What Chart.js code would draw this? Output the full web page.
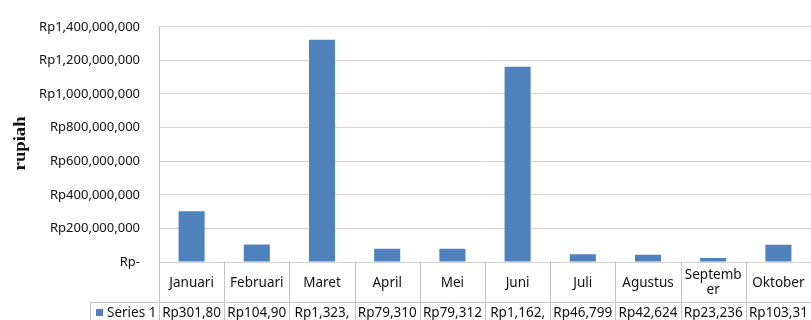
<!DOCTYPE html>
<html>
<head>
<meta charset="utf-8">
<script src="https://cdn.jsdelivr.net/npm/chart.js@4/dist/chart.umd.min.js"></script>
<style>
  html, body { margin: 0; padding: 0; background: #ffffff; }
  canvas { display: block; }
</style>
</head>
<body>
<canvas id="chart" width="811" height="320"></canvas>
<script>
// Monthly totals (rupiah)
const months = ['Januari', 'Februari', 'Maret', 'April', 'Mei', 'Juni', 'Juli', 'Agustus', 'September', 'Oktober'];
const seriesName = 'Series 1';
const seriesValues = [301800000, 104900000, 1323000000, 79310000, 79312000, 1162000000, 46799000, 42624000, 23236000, 103310000];
const yTickLabels = ['Rp-', 'Rp200,000,000', 'Rp400,000,000', 'Rp600,000,000', 'Rp800,000,000',
                     'Rp1,000,000,000', 'Rp1,200,000,000', 'Rp1,400,000,000'];
const axisTitle = 'rupiah';

const BAR_COLOR = '#4f81bd';
const TEXT_COLOR = '#111111';
const LINE_COLOR = '#c4c4c4';
const TABLE_FONT = '13.5px "Noto Sans"';

const formatRp = v => 'Rp' + v.toLocaleString('en-US');

// Longest leading part of a string that fits the given width
function fitPrefix(ctx, text, maxW) {
  let s = text;
  while (s.length > 1 && ctx.measureText(s).width > maxW) s = s.slice(0, -1);
  return s;
}

// Break a label into lines by characters when it is wider than its cell
function wrapChars(ctx, text, maxW) {
  const lines = [];
  let rest = text;
  while (rest.length) {
    const part = fitPrefix(ctx, rest, maxW);
    lines.push(part);
    rest = rest.slice(part.length);
  }
  return lines;
}

// Data table under the plot plus the rotated axis title
const dataTable = {
  id: 'dataTable',
  afterDraw(chart) {
    const { ctx, chartArea } = chart;
    const x = chart.scales.x;
    const n = months.length;
    const cellW = (x.right - x.left) / n;
    const top = chartArea.bottom;
    const split = top + 40;
    const bottom = chart.height + 8;
    const legendLeft = x.left - 69;

    ctx.save();
    ctx.strokeStyle = LINE_COLOR;
    ctx.lineWidth = 1;
    ctx.beginPath();
    for (let i = 0; i <= n; i++) {
      const bx = Math.round(x.left + i * cellW) + 0.5;
      ctx.moveTo(bx, top);
      ctx.lineTo(bx, bottom);
    }
    ctx.moveTo(legendLeft, split + 0.5);
    ctx.lineTo(x.right, split + 0.5);
    ctx.moveTo(legendLeft + 0.5, split);
    ctx.lineTo(legendLeft + 0.5, bottom);
    ctx.stroke();

    ctx.fillStyle = TEXT_COLOR;
    ctx.font = TABLE_FONT;
    ctx.textAlign = 'center';
    ctx.textBaseline = 'middle';

    // category row
    months.forEach((m, i) => {
      const cx = x.getPixelForValue(i);
      const lines = wrapChars(ctx, m, cellW - 6);
      const lh = 15;
      const y0 = (top + split) / 2 + 1 - (lines.length - 1) * lh / 2;
      lines.forEach((ln, k) => ctx.fillText(ln, cx, y0 + k * lh));
    });

    // value row
    const rowY = split + 11;
    seriesValues.forEach((v, i) => {
      const cx = x.getPixelForValue(i);
      ctx.fillText(fitPrefix(ctx, formatRp(v), cellW - 5), cx, rowY);
    });

    // legend key
    ctx.fillStyle = BAR_COLOR;
    ctx.fillRect(legendLeft + 6, rowY - 4, 7, 7);
    ctx.fillStyle = TEXT_COLOR;
    ctx.textAlign = 'left';
    ctx.fillText(seriesName, legendLeft + 17, rowY);

    // axis title
    ctx.font = 'bold 16px "Liberation Serif"';
    const tw = ctx.measureText(axisTitle).width;
    ctx.translate(21, (chartArea.top + chartArea.bottom) / 2 - 1);
    ctx.rotate(-Math.PI / 2);
    ctx.scale(54 / tw, 1);
    ctx.textAlign = 'center';
    ctx.fillText(axisTitle, 0, 0);
    ctx.restore();
  }
};

new Chart(document.getElementById('chart'), {
  type: 'bar',
  data: {
    labels: months,
    datasets: [{
      label: seriesName,
      data: seriesValues,
      backgroundColor: BAR_COLOR,
      borderWidth: 0,
      barPercentage: 0.4,
      categoryPercentage: 1.0
    }]
  },
  options: {
    responsive: false,
    animation: false,
    devicePixelRatio: 1,
    layout: { padding: { top: 22, right: 0, bottom: 0, left: 0 } },
    plugins: {
      legend: { display: false },
      tooltip: { enabled: false }
    },
    scales: {
      x: {
        grid: { display: false },
        border: { display: false },
        ticks: { display: false },
        afterFit(scale) { scale.height = 58; }
      },
      y: {
        min: 0,
        max: 1400000000,
        ticks: {
          stepSize: 200000000,
          padding: 19,
          color: TEXT_COLOR,
          font: { family: '"Noto Sans"', size: 13 },
          callback: (v, i) => yTickLabels[i]
        },
        grid: { color: '#d4d4d4', drawTicks: false },
        border: { display: true, color: LINE_COLOR },
        afterFit(scale) { scale.width = 159; }
      }
    }
  },
  plugins: [dataTable]
});
</script>
</body>
</html>
